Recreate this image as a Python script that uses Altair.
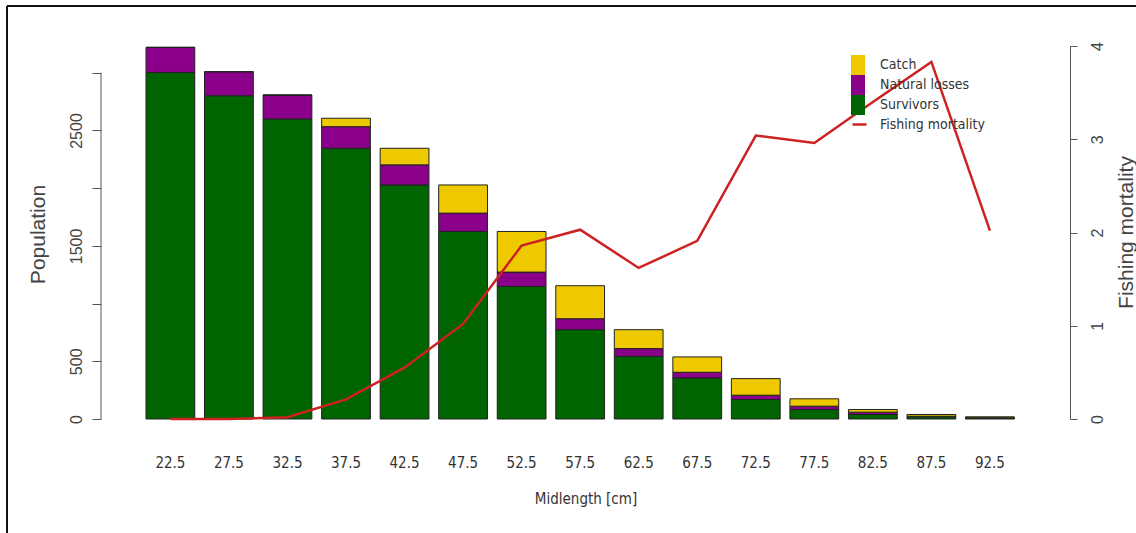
import altair as alt
import pandas as pd

# ---- data ----
midlengths = ["22.5", "27.5", "32.5", "37.5", "42.5", "47.5", "52.5", "57.5",
              "62.5", "67.5", "72.5", "77.5", "82.5", "87.5", "92.5"]
survivors = [3003, 2801, 2600, 2346, 2028, 1625, 1149, 774, 543, 356, 169, 82, 39, 19, 8]
natural_losses = [217, 208, 207, 187, 174, 159, 124, 95, 67, 49, 37, 29, 20, 5, 3]
catch = [0, 0, 0, 73, 144, 244, 352, 286, 164, 133, 144, 64, 23, 15, 8]
fishing_mortality = [0.0, 0.0, 0.02, 0.21, 0.55, 1.02, 1.86, 2.03, 1.62, 1.91,
                     3.04, 2.96, 3.40, 3.83, 2.02]

components = ["Catch", "Natural losses", "Survivors"]
component_colors = ["#EEC900", "#8B008B", "#006400"]
left_ticks = [0, 500, 1000, 1500, 2000, 2500, 3000]
right_ticks = [0, 1, 2, 3, 4]

rows = []
for i, m in enumerate(midlengths):
    rows.append({"Midlength": m, "Component": "Survivors", "Population": survivors[i], "rank": 1})
    rows.append({"Midlength": m, "Component": "Natural losses", "Population": natural_losses[i], "rank": 2})
    rows.append({"Midlength": m, "Component": "Catch", "Population": catch[i], "rank": 3})
bars_df = pd.DataFrame(rows)
line_df = pd.DataFrame({"Midlength": midlengths, "F": fishing_mortality,
                        "series": ["Fishing mortality"] * len(midlengths)})
axis_df = pd.DataFrame({"Population": [3000], "base": [0]})

NARROW = "Liberation Sans Narrow, Arial Narrow, DejaVu Sans Condensed, Liberation Sans, sans-serif"
NORMAL = "Liberation Sans, Arial, sans-serif"
W, H = 969, 373

xenc = alt.X("Midlength:O", sort=midlengths,
             scale=alt.Scale(paddingInner=0.1667, paddingOuter=0.86, align=0.447),
             axis=alt.Axis(domain=False, ticks=False, labelAngle=0, labelFont=NARROW,
                           labelFontSize=15, labelColor="#333", labelPadding=36,
                           titleFont=NARROW, titleFontSize=15, titleFontWeight="normal",
                           titleColor="#333", titleY=79, titleBaseline="middle"),
             title="Midlength [cm]")

left_axis = alt.Axis(values=left_ticks, domain=False, tickSize=9, tickColor="#555",
                     tickWidth=1, labelAngle=270, labelAlign="center", labelBaseline="bottom",
                     labelFont=NORMAL, labelFontSize=16, labelColor="#444", labelPadding=8,
                     labelExpr="indexof([0, 500, 1500, 2500], datum.value) >= 0 ? datum.value : ''",
                     grid=False, titleAngle=270, titleX=-63, titleY=188, titleAlign="center",
                     titleBaseline="middle", titleFont=NORMAL, titleFontSize=21,
                     titleFontWeight="normal", titleColor="#444")
yscale = alt.Scale(domain=[0, 3232], nice=False, zero=True)

bars = alt.Chart(bars_df).mark_bar(stroke="#222", strokeWidth=1).encode(
    x=xenc,
    y=alt.Y("Population:Q", stack="zero", scale=yscale, axis=left_axis, title="Population"),
    fill=alt.Fill("Component:N",
                  scale=alt.Scale(domain=components, range=component_colors),
                  legend=alt.Legend(orient="none", legendX=747, legendY=9, title=None,
                                    symbolType="M-0.7,-1H0.7V1H-0.7Z", symbolSize=400,
                                    symbolStrokeWidth=0, rowPadding=0, padding=0,
                                    labelFont=NARROW, labelFontSize=14, labelColor="#333",
                                    labelOffset=12)),
    order=alt.Order("rank:Q"),
)

left_line = alt.Chart(axis_df).mark_rule(color="#555", strokeWidth=1).encode(
    x=alt.value(0),
    y=alt.Y("Population:Q", scale=yscale, axis=left_axis, title="Population"),
    y2="base:Q",
)

line = alt.Chart(line_df).mark_line(strokeWidth=2.5).encode(
    x=xenc,
    y=alt.Y("F:Q", scale=alt.Scale(domain=[0, 4], nice=False),
            axis=alt.Axis(orient="right", values=right_ticks, domainColor="#555",
                          tickColor="#555", tickSize=7, labelAngle=270, labelAlign="center",
                          labelBaseline="top", labelFont=NORMAL, labelFontSize=16,
                          labelColor="#444", labelPadding=12, grid=False,
                          titleAngle=270, titleX=56, titleY=186, titleAlign="center",
                          titleBaseline="middle", titleFont=NORMAL, titleFontSize=21,
                          titleFontWeight="normal", titleColor="#444"),
            title="Fishing mortality"),
    stroke=alt.Stroke("series:N", scale=alt.Scale(range=["#CC2222"]),
                      legend=alt.Legend(orient="none", legendX=750, legendY=70, title=None,
                                        symbolType="stroke", symbolSize=196,
                                        symbolStrokeWidth=2.5, padding=0,
                                        labelFont=NARROW, labelFontSize=14,
                                        labelColor="#333", labelOffset=12)),
)

frame_df = pd.DataFrame({"k": [0]})
frame_top = alt.Chart(frame_df).mark_rule(color="#111", strokeWidth=2).encode(
    x=alt.value(-94), x2=alt.value(W + 66), y=alt.value(-40))
frame_left = alt.Chart(frame_df).mark_rule(color="#111", strokeWidth=2).encode(
    x=alt.value(-94), y=alt.value(-40), y2=alt.value(H + 114))

chart = alt.layer(
    alt.layer(bars, left_line),
    line,
    frame_top,
    frame_left,
).resolve_scale(y="independent").properties(
    width=W, height=H,
    autosize=alt.AutoSizeParams(type="none"),
    padding={"left": 101, "top": 46, "right": 66, "bottom": 114},
).configure_view(stroke=None)

chart.save("out.html", embed_options={"renderer": "svg", "actions": False})
